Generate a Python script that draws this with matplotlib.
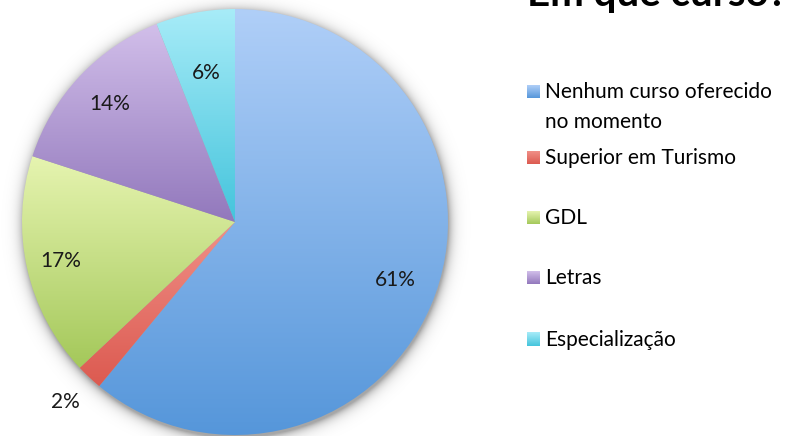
import numpy as np
import matplotlib
matplotlib.use("Agg")
import matplotlib.pyplot as plt
from matplotlib.colors import LinearSegmentedColormap

categories = ["Nenhum curso oferecido\nno momento", "Superior em Turismo", "GDL", "Letras", "Especialização"]
values = [61, 2, 17, 14, 6]
title = "Em que curso?"

# gradient colours (top, bottom)
grads = [("#b0cff8", "#5596da"), ("#f09088", "#dc5a50"), ("#e6f4b0", "#a4c85a"),
         ("#d2bfea", "#9278bc"), ("#a8ecf8", "#44c4dc")]
label_r = [0.80, 1.16, 0.84, 0.81, 0.71]

W, H = 801, 436
fig = plt.figure(figsize=(W / 100, H / 100), dpi=100)
ax = fig.add_axes([0, 0, 1, 1])
ax.set_xlim(0, W)
ax.set_ylim(0, H)
ax.axis("off")

font = "Lato"
fs = 15
cx, cy, R = 235, H - 222, 213

# soft shadow
xs = np.linspace(cx - R - 30, cx + R + 30, 400)
ys = np.linspace(cy - R - 30, cy + R + 30, 400)
X, Y = np.meshgrid(xs, ys)
d = np.hypot(X - cx - 1, Y - cy + 3)
a = np.clip(np.exp(-(d - R) / 5.0), 0, 1) * 0.35
img = np.zeros((400, 400, 4))
img[..., 3] = a
ax.imshow(img, extent=(xs[0], xs[-1], ys[0], ys[-1]), origin="lower", zorder=0, interpolation="bilinear")

wedges, _ = ax.pie(values, startangle=90, counterclock=False, center=(cx, cy), radius=R,
                   frame=True, wedgeprops=dict(linewidth=0))

grad = np.linspace(0, 1, 256).reshape(-1, 1)
for w, (top, bot), val, rf in zip(wedges, grads, values, label_r):
    verts = w.get_patch_transform().transform(w.get_path().vertices)
    y0, y1 = verts[:, 1].min(), verts[:, 1].max()
    x0, x1 = verts[:, 0].min(), verts[:, 0].max()
    cmap = LinearSegmentedColormap.from_list("g", [bot, top])
    im = ax.imshow(grad, cmap=cmap, extent=(x0, x1, y0, y1), origin="lower",
                   aspect="auto", zorder=2, interpolation="bilinear")
    im.set_clip_path(w)
    w.set_facecolor("none")
    w.set_zorder(3)
    ang = np.deg2rad((w.theta1 + w.theta2) / 2)
    ax.text(cx + rf * R * np.cos(ang), cy + rf * R * np.sin(ang), f"{val}%",
            ha="center", va="center", fontsize=fs, family=font, color="#1a1a1a", zorder=5)

# title (partially cut at top, as in the reference)
ax.text(657, H - 6, title, ha="center", va="baseline", fontsize=29, fontweight="bold",
        family=font, color="#000000")

# legend
leg_y = [92, 158, 218, 278, 340]
for (top, bot), lab, yy in zip(grads, categories, leg_y):
    cmap = LinearSegmentedColormap.from_list("g", [bot, top])
    ax.imshow(grad, cmap=cmap, extent=(527, 540, H - yy - 6.5, H - yy + 6.5), origin="lower",
              aspect="auto", zorder=4)
    for k, line in enumerate(lab.split("\n")):
        ax.text(545, H - yy - 30 * k, line, ha="left", va="center", fontsize=fs,
                family=font, color="#000000")

ax.set_xlim(0, W)
ax.set_ylim(0, H)
ax.set_aspect("auto")
ax.axis("off")
fig.savefig("out.png", dpi=100)
